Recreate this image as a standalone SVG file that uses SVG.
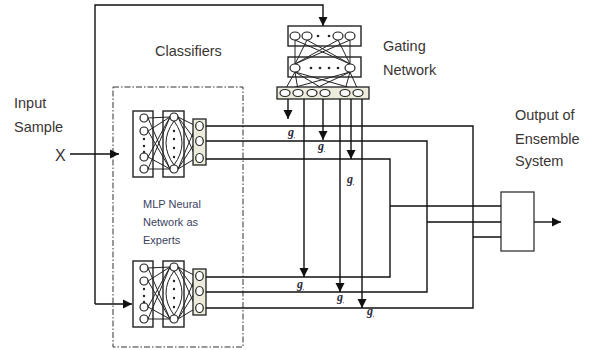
<svg xmlns="http://www.w3.org/2000/svg" xmlns:xlink="http://www.w3.org/1999/xlink" width="596" height="350" viewBox="0 0 596 350">
<style>
.s{fill:none;stroke:#111;stroke-width:1.4}
.b{fill:#fff;stroke:#222;stroke-width:1.4}
.bg{fill:#ecebdc;stroke:#222;stroke-width:1.3}
.c{fill:#fff;stroke:#222;stroke-width:1.2}
.d{fill:#222}
.w{stroke:#222;stroke-width:1;fill:none}
.t{font-family:"Liberation Sans",Arial,sans-serif;font-size:14.5px;fill:#3a3433}
.m{font-family:"Liberation Sans",Arial,sans-serif;font-size:11px;fill:#3c4260}
.g{font-family:"Liberation Serif","Times New Roman",serif;font-style:italic;font-weight:bold;font-size:12px;fill:#2a2a3a}
.g tspan{font-size:5px}
</style>
<defs>
<marker id="ah" viewBox="0 0 10 10" refX="10" refY="5" markerWidth="9" markerHeight="10" markerUnits="userSpaceOnUse" orient="auto">
<path d="M0,0 L10,5 L0,10 z" fill="#111"/>
</marker>
<g id="mlp">
<rect class="b" x="133" y="111" width="20" height="66"/>
<rect class="b" x="163" y="111" width="21" height="66"/>
<g class="w">
<path d="M148,118 L170,117 M148,131 L170,117 M148,157 L170,117 M148,169 L170,117 M148,118 L170,169 M148,131 L170,169 M148,157 L170,169 M148,169 L170,169"/>
<path d="M174,121 Q158,143 174,165 M174,121 Q190,143 174,165"/>
<path d="M178,117 L196,126 M178,117 L196,141 M178,117 L196,158 M178,169 L196,126 M178,169 L196,141 M178,169 L196,158"/>
</g>
<circle class="c" cx="144" cy="118" r="4"/>
<circle class="c" cx="144" cy="131" r="4"/>
<circle class="c" cx="144" cy="157" r="4"/>
<circle class="c" cx="144" cy="169" r="4"/>
<circle class="d" cx="144" cy="139" r="1.2"/>
<circle class="d" cx="144" cy="146" r="1.2"/>
<circle class="d" cx="144" cy="152" r="1.2"/>
<circle class="c" cx="174" cy="117" r="4"/>
<circle class="c" cx="174" cy="169" r="4"/>
<circle class="d" cx="174" cy="131" r="1.2"/>
<circle class="d" cx="174" cy="139" r="1.2"/>
<circle class="d" cx="174" cy="148" r="1.2"/>
<circle class="d" cx="174" cy="157" r="1.2"/>
<rect class="bg" x="193" y="119" width="13" height="46"/>
<ellipse class="c" cx="199.5" cy="126" rx="3.8" ry="4.5"/>
<ellipse class="c" cx="199.5" cy="141" rx="3.8" ry="4.5"/>
<ellipse class="c" cx="199.5" cy="158" rx="3.8" ry="4.5"/>
</g>
</defs>
<rect width="596" height="350" fill="#fff"/>

<text class="t" x="155" y="56">Classifiers</text>
<text class="t" x="383" y="51">Gating</text>
<text class="t" x="383" y="75">Network</text>
<text class="t" x="14" y="108">Input</text>
<text class="t" x="14" y="132">Sample</text>
<text class="t" x="55" y="161" style="font-size:16px">X</text>
<text class="t" x="515" y="120">Output of</text>
<text class="t" x="515" y="144">Ensemble</text>
<text class="t" x="515" y="166">System</text>

<g id="classifiers">
<rect x="113" y="87" width="130" height="260" fill="none" stroke="#333" stroke-width="1" stroke-dasharray="6 2 1.5 2"/>
<text class="m" x="143" y="208">MLP Neural</text>
<text class="m" x="143" y="226">Network as</text>
<text class="m" x="143" y="244">Experts</text>
</g>

<g id="expert-top"><use xlink:href="#mlp" href="#mlp"/></g>
<g id="expert-bottom" transform="translate(0,150)"><use xlink:href="#mlp" href="#mlp"/></g>

<g id="gating-network">
<rect class="b" x="288" y="26" width="73" height="20"/>
<rect class="b" x="288" y="57" width="73" height="20"/>
<g class="w">
<path d="M295,40 L295,64 M295,40 L350,64 M307,40 L295,64 M307,40 L350,64 M338,40 L295,64 M338,40 L350,64 M350,40 L295,64 M350,40 L350,64"/>
<path d="M295,72 L285,90 M295,72 L298,90 M295,72 L325,90 M295,72 L358,90 M350,72 L285,90 M350,72 L312,90 M350,72 L345,90 M350,72 L358,90"/>
</g>
<ellipse class="c" cx="295" cy="36" rx="5" ry="4"/>
<ellipse class="c" cx="307" cy="36" rx="5" ry="4"/>
<ellipse class="c" cx="338" cy="36" rx="5" ry="4"/>
<ellipse class="c" cx="350" cy="36" rx="5" ry="4"/>
<circle class="d" cx="318" cy="36" r="1.3"/>
<circle class="d" cx="329" cy="36" r="1.3"/>
<ellipse class="c" cx="295" cy="68" rx="5" ry="4"/>
<ellipse class="c" cx="350" cy="68" rx="5" ry="4"/>
<circle class="d" cx="311" cy="68" r="1.3"/>
<circle class="d" cx="320" cy="68" r="1.3"/>
<circle class="d" cx="329" cy="68" r="1.3"/>
<circle class="d" cx="338" cy="68" r="1.3"/>
<rect class="bg" x="277" y="87" width="92" height="12"/>
<ellipse class="c" cx="285" cy="93" rx="5" ry="3.5"/>
<ellipse class="c" cx="298" cy="93" rx="5" ry="3.5"/>
<ellipse class="c" cx="312" cy="93" rx="5" ry="3.5"/>
<ellipse class="c" cx="325" cy="93" rx="5" ry="3.5"/>
<ellipse class="c" cx="345" cy="93" rx="5" ry="3.5"/>
<ellipse class="c" cx="358" cy="93" rx="5" ry="3.5"/>
</g>

<g id="combiner">
<rect x="501" y="192" width="33" height="59" fill="#fff" stroke="#333" stroke-width="1.3"/>
</g>

<g id="connectors">
<path class="s" d="M70,154 H119" marker-end="url(#ah)"/>
<path class="s" d="M95,304 V5 H323 V26" marker-end="url(#ah)"/>
<path class="s" d="M95,304 H132" marker-end="url(#ah)"/>
<path class="s" d="M206,159 H390 V277 H206"/>
<path class="s" d="M206,141 H427 V292 H206"/>
<path class="s" d="M206,126 H473 V308 H206"/>
<path class="s" d="M390,206 H501 M427,222 H501 M473,237 H501"/>
<path class="s" d="M534,222 H561" marker-end="url(#ah)"/>
<path class="s" d="M288,99 V119" marker-end="url(#ah)"/>
<path class="s" d="M304,99 V277" marker-end="url(#ah)"/>
<path class="s" d="M323,99 V140" marker-end="url(#ah)"/>
<path class="s" d="M340,99 V292" marker-end="url(#ah)"/>
<path class="s" d="M351,99 V159" marker-end="url(#ah)"/>
<path class="s" d="M362,99 V308" marker-end="url(#ah)"/>
</g>

<g id="gate-labels">
<text class="g" x="288" y="136">g<tspan dy="2">,</tspan></text>
<text class="g" x="318" y="150">g<tspan dy="2">,</tspan></text>
<text class="g" x="347" y="183">g<tspan dy="2">,</tspan></text>
<text class="g" x="297" y="288">g<tspan dy="2">,</tspan></text>
<text class="g" x="337" y="301">g<tspan dy="2">,</tspan></text>
<text class="g" x="367" y="315">g<tspan dy="2">,</tspan></text>
</g>
</svg>
